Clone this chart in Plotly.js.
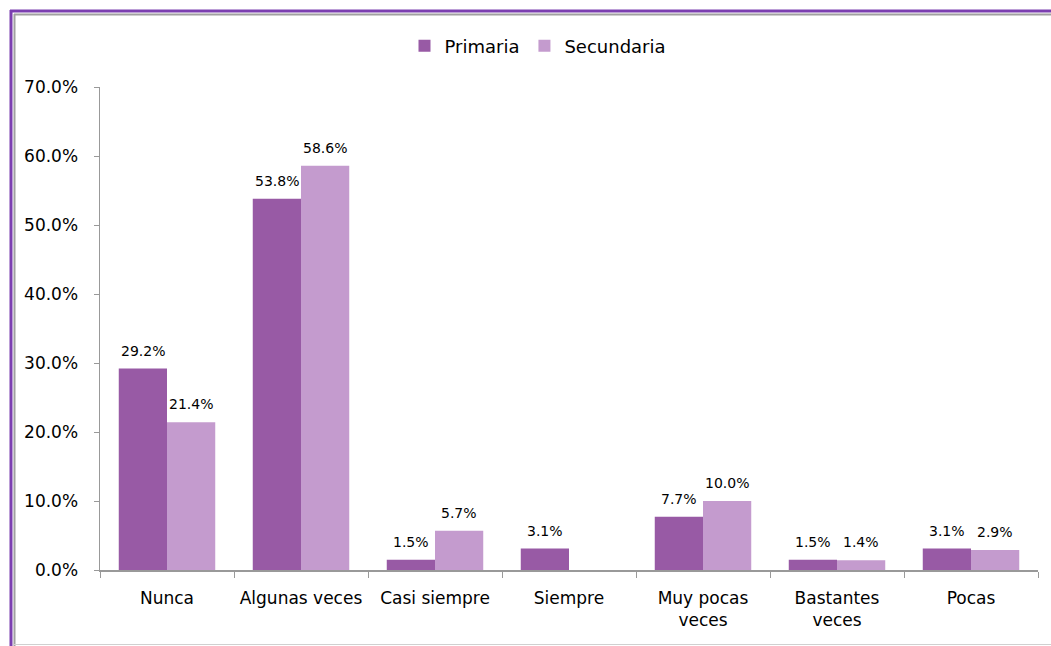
<!DOCTYPE html>
<html><head><meta charset="utf-8">
<script src="https://cdn.plot.ly/plotly-3.0.1.min.js"></script>
<style>html,body{margin:0;padding:0;background:#fff}#chart{width:1051px;height:646px}</style>
</head><body><div id="chart"></div>
<script>
const categories = ["Nunca", "Algunas veces", "Casi siempre", "Siempre", "Muy pocas<br>veces", "Bastantes<br>veces", "Pocas"];
const primaria = [29.2, 53.8, 1.5, 3.1, 7.7, 1.5, 3.1];
const secundaria = [21.4, 58.6, 5.7, null, 10.0, 1.4, 2.9];
const yTicks = [0, 10, 20, 30, 40, 50, 60, 70];

const L = 100, R = 13, T = 87, B = 76, W = 1051, H = 646;
const pw = W - L - R, ph = H - T - B;
const px = x => (x - L) / pw;
const py = y => (H - B - y) / ph;
const bargap = 0.28;
const barW = pw / categories.length * (1 - bargap) / 2;

function fmt(v){ return v == null ? "" : v.toFixed(1) + "%"; }
const labelFont = {family: "DejaVu Sans", size: 14, color: "#000"};

const traces = [
  {type: "bar", name: "Primaria", x: categories, y: primaria,
   marker: {color: "#985AA5"}, hoverinfo: "none"},
  {type: "bar", name: "Secundaria", x: categories, y: secundaria,
   marker: {color: "#C49BCE"}, hoverinfo: "none"}
];

const annotations = [];
[[primaria, -1], [secundaria, 1]].forEach(([vals, side]) => {
  vals.forEach((v, i) => {
    if (v == null) return;
    annotations.push({x: categories[i], y: v, xref: "x", yref: "y", text: fmt(v),
      showarrow: false, xanchor: "center", yanchor: "bottom",
      xshift: side * barW / 2, yshift: 8, font: labelFont});
  });
});

const layout = {
  width: W, height: H,
  margin: {l: L, r: R, t: T, b: B},
  paper_bgcolor: "#fff", plot_bgcolor: "#fff",
  barmode: "group", bargap: bargap, bargroupgap: 0,
  font: {family: "DejaVu Sans", size: 16, color: "#000"},
  showlegend: true,
  legend: {orientation: "h", x: px(538), xanchor: "center", y: py(46), yanchor: "middle",
           font: {family: "DejaVu Sans", size: 18, color: "#000"}, itemwidth: 30, traceorder: "normal"},
  annotations: annotations,
  xaxis: {showgrid: false, zeroline: false, showline: true, linecolor: "#999", linewidth: 1.5,
          ticks: "outside", tickson: "boundaries", ticklen: 6, tickcolor: "#999",
          ticklabelstandoff: 12,
          tickfont: {family: "DejaVu Sans", size: 17, color: "#000"}},
  yaxis: {range: [0, 70], tickvals: yTicks, ticktext: yTicks.map(v => v.toFixed(1) + "%"),
          showgrid: false, zeroline: false, showline: true, linecolor: "#999", linewidth: 1.5,
          ticks: "outside", ticklen: 5, tickcolor: "#999", ticklabelstandoff: 12,
          tickfont: {family: "DejaVu Sans", size: 17, color: "#000"}},
  shapes: [
    {type: "line", xref: "paper", yref: "paper", x0: px(10), x1: px(1060), y0: py(11), y1: py(11), line: {color: "#7B3FB0", width: 3}},
    {type: "line", xref: "paper", yref: "paper", x0: px(11), x1: px(11), y0: py(10), y1: py(660), line: {color: "#7B3FB0", width: 3}},
    {type: "line", xref: "paper", yref: "paper", x0: px(14), x1: px(1060), y0: py(14.5), y1: py(14.5), line: {color: "#A0A0A0", width: 2}},
    {type: "line", xref: "paper", yref: "paper", x0: px(14.5), x1: px(14.5), y0: py(14), y1: py(660), line: {color: "#A0A0A0", width: 2}},
    {type: "line", xref: "paper", yref: "paper", x0: px(14), x1: px(1060), y0: py(644.5), y1: py(644.5), line: {color: "#D0D0D0", width: 1}}
  ]
};

Plotly.newPlot("chart", traces, layout, {displayModeBar: false, staticPlot: true});
</script></body></html>
